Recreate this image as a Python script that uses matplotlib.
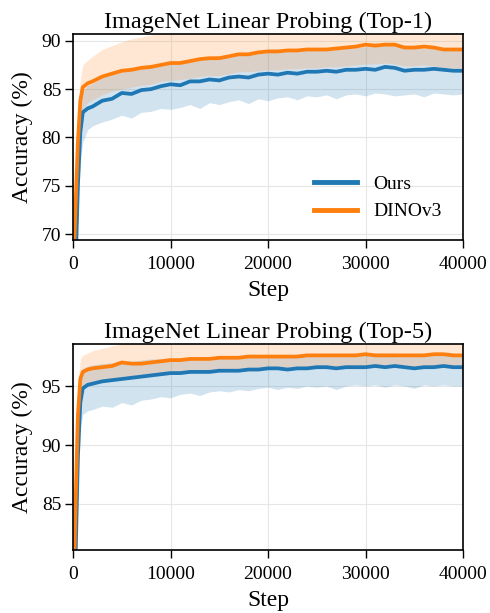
import numpy as np
import matplotlib
matplotlib.use('Agg')
import matplotlib.pyplot as plt

plt.rcParams['font.family'] = ['Liberation Serif', 'DejaVu Serif']

# training steps at which the curves are read
steps = [0, 250, 500, 750, 1000, 1500, 2000] + list(range(3000, 41000, 1000))

# ---- Top-1 ----
top1_ours = [60.0, 66.0, 75.0, 80.5, 82.6, 83.0, 83.2, 83.8, 84.0, 84.6,
             84.5, 84.9, 85.0, 85.3, 85.5, 85.4, 85.8, 85.8, 86.0, 85.9,
             86.2, 86.3, 86.2, 86.5, 86.6, 86.5, 86.7, 86.6, 86.8, 86.8,
             86.9, 86.8, 87.0, 87.0, 87.1, 87.0, 87.3, 87.2, 86.9, 87.0,
             87.0, 87.1, 87.0, 86.9, 86.9]
top1_ours_lo = [60.0, 65.0, 72.0, 77.5, 79.5, 80.8, 81.2, 81.6, 81.9, 82.3,
                82.0, 82.6, 82.7, 83.0, 82.9, 83.1, 83.4, 83.0, 83.6, 83.4,
                83.7, 83.9, 83.5, 84.0, 83.8, 84.1, 84.2, 83.9, 84.3, 84.2,
                84.4, 84.0, 84.4, 84.5, 84.3, 84.6, 84.5, 84.3, 84.4, 84.5,
                84.2, 84.6, 84.5, 84.4, 84.5]
top1_ours_hi = [62.0, 71.0, 79.0, 83.5, 84.8, 85.4, 85.6, 86.2, 86.5, 86.8,
                87.0, 87.1, 87.3, 87.4, 87.6, 87.7, 87.8, 88.0, 88.1, 88.2,
                88.3, 88.5, 88.6, 88.7, 88.8, 88.8, 88.9, 88.9, 89.0, 89.0,
                89.0, 89.1, 89.2, 89.3, 89.4, 89.4, 89.5, 89.5, 89.4, 89.3,
                89.2, 89.2, 89.0, 89.0, 89.0]
top1_dino = [65.0, 72.5, 79.5, 83.8, 85.2, 85.6, 85.8, 86.3, 86.6, 86.9,
             87.0, 87.2, 87.3, 87.5, 87.7, 87.7, 87.9, 88.1, 88.2, 88.2,
             88.4, 88.6, 88.6, 88.8, 88.9, 88.9, 89.0, 89.0, 89.1, 89.1,
             89.1, 89.2, 89.3, 89.4, 89.6, 89.5, 89.6, 89.6, 89.3, 89.3,
             89.4, 89.3, 89.1, 89.1, 89.1]
top1_dino_lo = [64.0, 70.0, 76.5, 81.0, 83.0, 83.6, 83.9, 84.4, 84.8, 85.0,
                85.2, 85.4, 85.5, 85.8, 85.9, 86.0, 86.1, 86.3, 86.4, 86.4,
                86.6, 86.8, 86.8, 86.9, 87.0, 87.0, 87.1, 87.1, 87.2, 87.2,
                87.3, 87.3, 87.4, 87.5, 87.6, 87.6, 87.7, 87.6, 87.4, 87.4,
                87.5, 87.4, 87.2, 87.2, 87.2]
top1_dino_hi = [67.0, 76.0, 82.5, 86.0, 87.5, 88.0, 88.4, 89.1, 89.5, 89.9,
                90.2, 90.4, 90.6, 90.8, 91.0, 91.0, 91.0, 91.0, 91.0, 91.0,
                91.0, 91.0, 91.0, 91.0, 91.0, 91.0, 91.0, 91.0, 91.0, 91.0,
                91.0, 91.0, 91.0, 91.0, 91.0, 91.0, 91.0, 91.0, 91.0, 91.0,
                91.0, 91.0, 91.0, 91.0, 91.0]

# ---- Top-5 ----
top5_ours = [70.0, 80.0, 89.0, 93.6, 94.8, 95.1, 95.2, 95.4, 95.5, 95.6,
             95.7, 95.8, 95.9, 96.0, 96.1, 96.1, 96.2, 96.2, 96.2, 96.3,
             96.3, 96.3, 96.4, 96.4, 96.5, 96.5, 96.4, 96.5, 96.5, 96.6,
             96.6, 96.5, 96.6, 96.6, 96.6, 96.7, 96.6, 96.7, 96.6, 96.5,
             96.6, 96.6, 96.7, 96.6, 96.6]
top5_ours_lo = [70.0, 78.0, 86.0, 91.5, 92.6, 92.9, 93.0, 93.3, 93.2, 93.6,
                93.4, 93.8, 93.9, 94.1, 94.0, 94.3, 94.4, 94.2, 94.5, 94.6,
                94.5, 94.7, 94.6, 94.8, 94.9, 94.7, 94.9, 94.8, 95.0, 94.9,
                95.0, 94.7, 95.0, 95.1, 95.0, 95.1, 94.9, 95.1, 95.0, 94.8,
                95.1, 95.0, 95.1, 95.0, 95.0]
top5_ours_hi = [72.0, 84.0, 92.0, 95.8, 96.5, 96.7, 96.8, 96.9, 97.0, 97.1,
                97.1, 97.2, 97.3, 97.3, 97.4, 97.4, 97.4, 97.5, 97.5, 97.5,
                97.5, 97.6, 97.6, 97.6, 97.6, 97.6, 97.6, 97.7, 97.7, 97.7,
                97.7, 97.7, 97.7, 97.7, 97.8, 97.8, 97.8, 97.8, 97.7, 97.7,
                97.7, 97.8, 97.8, 97.7, 97.7]
top5_dino = [75.0, 84.5, 92.5, 95.6, 96.2, 96.4, 96.5, 96.6, 96.7, 97.0,
             96.9, 96.9, 97.0, 97.1, 97.2, 97.2, 97.3, 97.3, 97.3, 97.4,
             97.4, 97.4, 97.5, 97.5, 97.5, 97.5, 97.5, 97.5, 97.6, 97.6,
             97.6, 97.6, 97.6, 97.6, 97.7, 97.6, 97.6, 97.6, 97.6, 97.6,
             97.6, 97.7, 97.7, 97.6, 97.6]
top5_dino_lo = [74.0, 82.0, 90.0, 94.2, 95.0, 95.3, 95.4, 95.5, 95.6, 95.8,
                95.8, 95.9, 96.0, 96.1, 96.1, 96.2, 96.2, 96.3, 96.3, 96.4,
                96.4, 96.4, 96.5, 96.5, 96.5, 96.5, 96.5, 96.5, 96.6, 96.6,
                96.6, 96.6, 96.6, 96.6, 96.6, 96.6, 96.6, 96.6, 96.6, 96.6,
                96.6, 96.6, 96.6, 96.6, 96.6]
top5_dino_hi = [77.0, 88.0, 95.0, 97.3, 97.6, 97.8, 98.0, 98.2, 98.4, 98.6,
                98.8, 98.8, 98.8, 98.8, 98.8, 98.8, 98.8, 98.8, 98.8, 98.8,
                98.8, 98.8, 98.8, 98.8, 98.8, 98.8, 98.8, 98.8, 98.8, 98.8,
                98.8, 98.8, 98.8, 98.8, 98.8, 98.8, 98.8, 98.8, 98.8, 98.8,
                98.8, 98.8, 98.8, 98.8, 98.8]

c_ours = '#1f77b4'
c_dino = '#ff7f0e'

fig, axes = plt.subplots(2, 1, figsize=(4.9, 6.13), dpi=100)
fig.subplots_adjust(left=0.149, right=0.945, top=0.9445, bottom=0.1028, hspace=0.5)

panels = [
    (axes[0], 'ImageNet Linear Probing (Top-1)',
     (top1_ours, top1_ours_lo, top1_ours_hi), (top1_dino, top1_dino_lo, top1_dino_hi),
     (69.35, 90.7), [70, 75, 80, 85, 90]),
    (axes[1], 'ImageNet Linear Probing (Top-5)',
     (top5_ours, top5_ours_lo, top5_ours_hi), (top5_dino, top5_dino_lo, top5_dino_hi),
     (81.1, 98.6), [85, 90, 95]),
]

for ax, title, ours, dino, ylim, yt in panels:
    ax.fill_between(steps, ours[1], ours[2], color=c_ours, alpha=0.2, lw=0)
    ax.fill_between(steps, dino[1], dino[2], color=c_dino, alpha=0.18, lw=0)
    ax.plot(steps, ours[0], color=c_ours, lw=2.7, label='Ours')
    ax.plot(steps, dino[0], color=c_dino, lw=2.7, label='DINOv3')
    ax.set_xlim(0, 40000)
    ax.set_ylim(*ylim)
    ax.set_yticks(yt)
    ax.set_xticks([0, 10000, 20000, 30000, 40000])
    ax.grid(True, color='#e6e6e6', lw=0.8)
    ax.set_axisbelow(True)
    ax.set_title(title, fontsize=17.5, pad=4)
    ax.set_xlabel('Step', fontsize=17, labelpad=5)
    ax.set_ylabel('Accuracy (%)', fontsize=17, labelpad=6)
    ax.tick_params(labelsize=14, length=5.5, width=1)
    ax.tick_params(axis='x', pad=6)
    ax.tick_params(axis='y', pad=3)
    for s in ax.spines.values():
        s.set_linewidth(1.2)

leg = axes[0].legend(loc='center left', frameon=False, fontsize=14,
                     handlelength=2.25, bbox_to_anchor=(0.572, 0.206))
for h in leg.get_lines():
    h.set_linewidth(3.5)

fig.savefig('out.png', dpi=100)
